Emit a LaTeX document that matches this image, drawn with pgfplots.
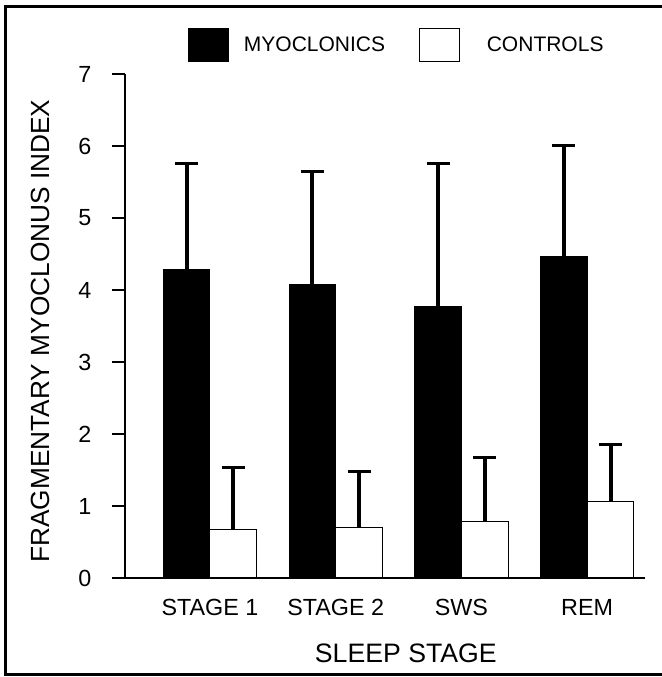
\documentclass[border=0pt]{standalone}
\usepackage{pgfplots}
\pgfplotsset{compat=1.18}
\usepackage{fontspec}
\setmainfont{Liberation Sans}
\begin{document}
\begin{tikzpicture}
\path[use as bounding box] (0,0) rectangle (495.75pt,507.75pt);
\draw[line width=2.25pt] (3.75pt,1.5pt) rectangle (505pt,502.5pt);
\begin{axis}[
  at={(93.75pt,74.25pt)}, anchor=south west,
  scale only axis, width=390pt, height=378pt,
  xmin=-0.676, xmax=3.46, ymin=0, ymax=7,
  axis x line=bottom, axis y line=left,
  axis line style={-, line width=0.9pt},
  ytick={0,1,2,3,4,5,6,7},
  xtick={0,1,2,3}, xticklabels={STAGE 1, STAGE 2, SWS, REM},
  x tick style={draw=none},
  tick align=outside, major tick length=9.75pt,
  y tick style={line width=0.9pt, black},
  ticklabel style={font=\fontsize{17.5}{20}\selectfont},
  yticklabel style={xshift=-12pt},
  xticklabel style={yshift=-2.5pt},
  /pgf/number format/assume math mode=true,
  xlabel={SLEEP STAGE},
  xlabel style={at={(axis description cs:0.540,-0.149)}, anchor=center, font=\fontsize{20}{24}\selectfont},
  ylabel={FRAGMENTARY MYOCLONUS INDEX},
  ylabel style={at={(axis description cs:-0.163,0.49)}, anchor=center, rotate=0, font=\fontsize{19.7}{23}\selectfont},
  ybar=0pt, bar width=35pt,
  legend columns=2,
  legend style={draw=none, fill=none, at={(axis description cs:0.521,1.058)}, anchor=center,
    font=\fontsize{15.75}{18}\selectfont,
    /tikz/every even column/.append style={column sep=25.5pt},
    nodes={inner sep=0pt, outer sep=0pt}},
]
\addplot[fill=black, draw=black, line width=0.75pt,
  legend image code/.code={\draw[fill=black, draw=black, line width=0.75pt] (0pt,-12.4pt) rectangle (30pt,12.4pt);},
  error bars/.cd, y dir=plus, y explicit,
  error bar style={line width=3pt, black},
  error mark=|,
  error mark options={line width=2.25pt, mark size=8.6pt, black}]
  coordinates {(0,4.29) +- (0,1.46) (1,4.07) +- (0,1.58) (2,3.77) +- (0,1.99) (3,4.47) +- (0,1.54)};
\addlegendentry{\hspace{11pt}MYOCLONICS}
\addplot[fill=white, draw=black, line width=0.75pt,
  legend image code/.code={\draw[fill=white, draw=black, line width=0.75pt] (0pt,-12.4pt) rectangle (30pt,12.4pt);},
  error bars/.cd, y dir=plus, y explicit,
  error bar style={line width=3pt, black},
  error mark=|,
  error mark options={line width=2.25pt, mark size=8.6pt, black}]
  coordinates {(0,0.68) +- (0,0.85) (1,0.70) +- (0,0.78) (2,0.78) +- (0,0.90) (3,1.06) +- (0,0.79)};
\addlegendentry{\hspace{20pt}CONTROLS}
\end{axis}
\end{tikzpicture}
\end{document}
